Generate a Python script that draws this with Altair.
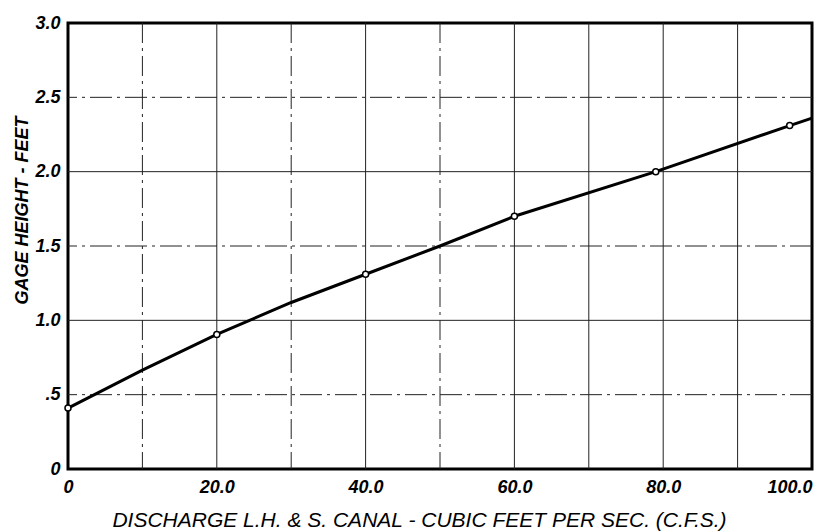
import altair as alt
import pandas as pd

# fitted rating curve
curve_x = [0, 10, 20, 30, 40, 50, 60, 79, 97, 100]
curve_y = [0.41, 0.665, 0.905, 1.12, 1.31, 1.50, 1.70, 2.0, 2.31, 2.36]

# observed measurements (open circles)
obs_x = [0, 20, 40, 60, 79, 97]
obs_y = [0.41, 0.905, 1.31, 1.70, 2.0, 2.31]

# grid positions
x_grid_solid = [20, 40, 60, 70, 80, 90]
x_grid_dash = [10, 30, 50]
y_grid_solid = [1.0, 2.0]
y_grid_dash = [0.5, 1.5, 2.5]

x_ticks = [0, 20, 40, 60, 80, 100]
y_ticks = [0, 0.5, 1.0, 1.5, 2.0, 2.5, 3.0]

FONT = "Liberation Sans"

xs = alt.Scale(domain=[0, 100], nice=False, zero=False)
ys = alt.Scale(domain=[0, 3], nice=False, zero=False)

curve_df = pd.DataFrame({"q": curve_x, "h": curve_y})
obs_df = pd.DataFrame({"q": obs_x, "h": obs_y})

xaxis = alt.Axis(
    values=x_ticks,
    labelExpr="datum.value == 0 ? '0' : format(datum.value, '.1f')",
    grid=False, ticks=False, domain=False,
    labelFont=FONT, labelFontSize=18, labelFontStyle="italic", labelFontWeight="bold",
    labelColor="black", labelPadding=9,
    labelAlign={"condition": {"test": "datum.value == 100", "value": "right"}, "value": "center"},
    title="DISCHARGE L.H. & S. CANAL - CUBIC FEET PER SEC. (C.F.S.)",
    titleFont=FONT, titleFontSize=21, titleFontStyle="italic", titleFontWeight="normal",
    titleColor="black", titleX=351, titleY=51, titleBaseline="middle", titleAlign="center",
)
yaxis = alt.Axis(
    values=y_ticks,
    labelExpr="datum.value == 0 ? '0' : datum.value == 0.5 ? '.5' : format(datum.value, '.1f')",
    grid=False, ticks=False, domain=False,
    labelFont=FONT, labelFontSize=18, labelFontStyle="italic", labelFontWeight="bold",
    labelColor="black", labelPadding=8,
    title="GAGE HEIGHT - FEET",
    titleFont=FONT, titleFontSize=18, titleFontStyle="italic", titleFontWeight="bold",
    titleColor="black", titleX=-46, titleY=187, titleBaseline="middle", titleAlign="center",
    titleAngle=270,
)

base = alt.Chart(curve_df)

vsolid = alt.Chart(pd.DataFrame({"g": x_grid_solid})).mark_rule(
    color="#222", strokeWidth=1).encode(x=alt.X("g:Q", scale=xs))
vdash = alt.Chart(pd.DataFrame({"g": x_grid_dash})).mark_rule(
    color="#222", strokeWidth=1, strokeDash=[20, 5, 3, 5]).encode(x=alt.X("g:Q", scale=xs))
hsolid = alt.Chart(pd.DataFrame({"g": y_grid_solid})).mark_rule(
    color="#222", strokeWidth=1).encode(y=alt.Y("g:Q", scale=ys))
hdash = alt.Chart(pd.DataFrame({"g": y_grid_dash})).mark_rule(
    color="#222", strokeWidth=1, strokeDash=[22, 5, 3, 5]).encode(y=alt.Y("g:Q", scale=ys))

line = base.mark_line(color="black", strokeWidth=3, interpolate="linear").encode(
    x=alt.X("q:Q", scale=xs, axis=xaxis),
    y=alt.Y("h:Q", scale=ys, axis=yaxis),
)
pts = alt.Chart(obs_df).mark_point(
    shape="circle", filled=True, fill="white", stroke="black", strokeWidth=1.5,
    size=36, opacity=1).encode(
    x=alt.X("q:Q", scale=xs), y=alt.Y("h:Q", scale=ys))

chart = alt.layer(vsolid, vdash, hsolid, hdash, line, pts).properties(
    width=744, height=446,
    autosize=alt.AutoSizeParams(type="none"),
    padding={"left": 60, "top": 15, "right": 8, "bottom": 62},
    background="white",
).configure_view(stroke="black", strokeWidth=3)

chart.save("out.html", embed_options={"renderer": "svg", "actions": False})
